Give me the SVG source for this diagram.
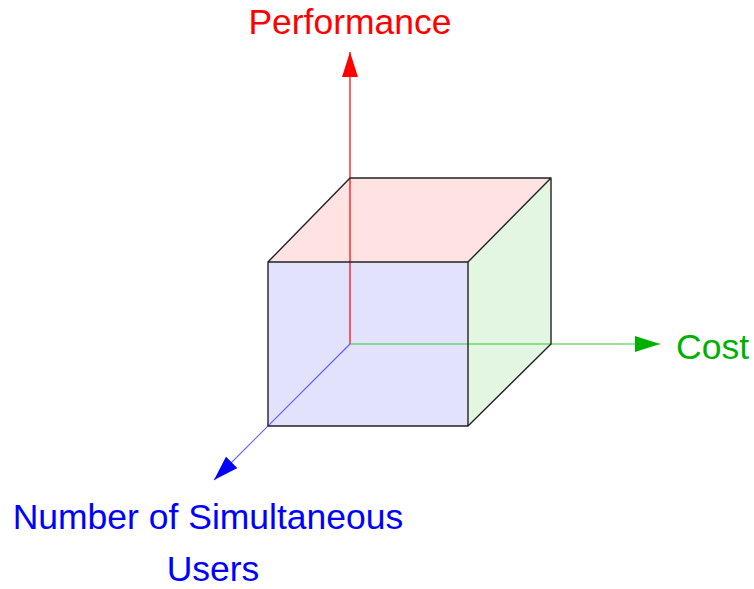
<svg xmlns="http://www.w3.org/2000/svg" width="754" height="589" viewBox="0 0 754 589">
<defs>
<style>
.lbl{font-family:"Liberation Sans",Arial,sans-serif;font-size:35.5px}
.edge{fill:none;stroke:#222;stroke-width:1.4;stroke-linejoin:round}
.ax{stroke-width:1.2;fill:none}
</style>
<marker id="arR" viewBox="0 0 25 16" refX="25" refY="8" markerWidth="25" markerHeight="16" markerUnits="userSpaceOnUse" orient="auto"><path d="M0,0 L25,8 L0,16 Z" fill="#ff0000"/></marker>
<marker id="arG" viewBox="0 0 25 16" refX="25" refY="8" markerWidth="25" markerHeight="16" markerUnits="userSpaceOnUse" orient="auto"><path d="M0,0 L25,8 L0,16 Z" fill="#00b000"/></marker>
<marker id="arB" viewBox="0 0 25 16" refX="25" refY="8" markerWidth="25" markerHeight="16" markerUnits="userSpaceOnUse" orient="auto"><path d="M0,0 L25,8 L0,16 Z" fill="#0000ff"/></marker>
</defs>
<rect width="754" height="589" fill="#fff"/>
<g id="cube">
<path d="M268,262 L350,178 L551,178 L468,262 Z" fill="#ffe2e2"/>
<path d="M468,262 L551,178 L551,344 L468,426 Z" fill="#e2f6e2"/>
<rect x="268" y="262" width="200" height="164" fill="#e2e2fc"/>
</g>
<g id="connectors">
<line class="ax" x1="350" y1="344" x2="350" y2="52" stroke="#ff0000" marker-end="url(#arR)"/>
<line class="ax" x1="350" y1="344" x2="660" y2="344" stroke="#33c833" marker-end="url(#arG)"/>
<line class="ax" x1="350" y1="344" x2="214" y2="480" stroke="#6060ff" marker-end="url(#arB)"/>
</g>
<g id="cube-edges">
<path class="edge" d="M268,262 L350,178 L551,178 L468,262 Z M551,178 L551,344 L468,426 M268,262 L268,426 L468,426 L468,262"/>
</g>
<g id="performance"><text class="lbl" x="350" y="34" text-anchor="middle" fill="#ff0000">Performance</text></g>
<g id="cost"><text class="lbl" x="676" y="359" fill="#00b000">Cost</text></g>
<g id="users"><text class="lbl" x="208" y="529" text-anchor="middle" fill="#0000ff">Number of Simultaneous</text><text class="lbl" x="213" y="581" text-anchor="middle" fill="#0000ff">Users</text></g>
</svg>
